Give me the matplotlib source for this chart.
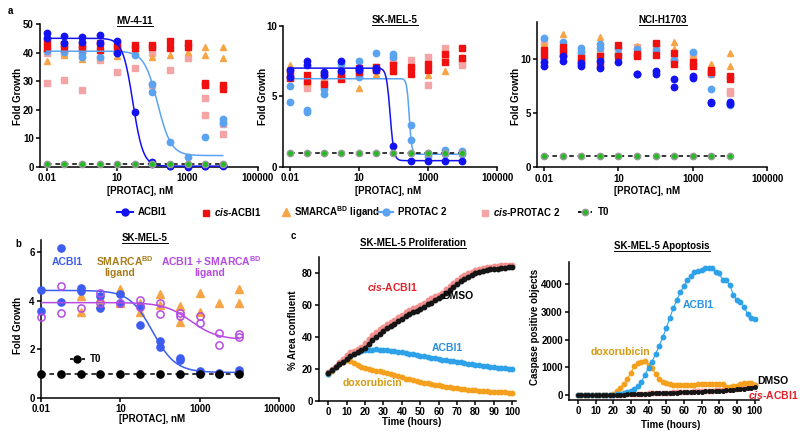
import numpy as np
import matplotlib
matplotlib.use("Agg")
import matplotlib.pyplot as plt
from matplotlib.lines import Line2D

plt.rcParams['font.family'] = ['Liberation Sans', 'DejaVu Sans']
plt.rcParams['font.weight'] = 'bold'
plt.rcParams['mathtext.fontset'] = 'custom'
plt.rcParams['mathtext.rm'] = 'Liberation Sans:bold'
plt.rcParams['mathtext.it'] = 'Liberation Sans:italic:bold'
plt.rcParams['mathtext.bf'] = 'Liberation Sans:bold'
plt.rcParams['mathtext.default'] = 'rm'
plt.rcParams['axes.linewidth'] = 1.1

nan = np.nan
W, H = 800, 438

# --- doses (as placed on the Prism axis) ---
doses = [0.1, 0.316, 1, 3.16, 10, 31.6, 100, 316, 1000, 3162, 10000]
dose_ticks = [0.1, 10, 1000, 100000]
dose_ticklabels = ['0.01', '10', '1000', '100000']
t0_value = 1.0

# --- panel a : MV-4-11 ---
acbi1_mv = [[47.0, 45.9, 45.5, 46.1, 43.9, 19.3, 1.8, 0.3, 0.2, 0.3, 0.8],
            [45.0, 43.5, 43.8, 43.5, 40.0, nan, 1.2, 0.2, 0.1, 0.2, 0.5]]
protac2_mv = [[40.5, 40.3, 40.0, 38.5, 40.0, 39.1, 29.0, 8.8, 3.5, 10.5, 16.9],
              [nan, nan, 38.3, nan, nan, nan, 26.3, nan, nan, nan, 15.5]]
cis_acbi1_mv = [[43.8, 43.0, 42.5, 43.5, 42.5, 42.6, 42.8, 44.2, 43.5, 29.2, 28.5],
                [41.5, 41.5, 41.5, 41.0, 41.5, 41.5, 42.0, 41.5, 41.8, 28.5, 27.3]]
smarca_mv = [[37.0, 39.3, 37.8, 38.5, 38.8, 41.0, 38.5, 39.0, 40.3, 42.0, 42.0],
             [nan, nan, nan, nan, nan, nan, nan, nan, nan, 39.1, 38.0]]
cis_protac2_mv = [[40.0, 39.5, 26.9, 37.4, 33.3, 34.5, 40.0, 33.9, 38.0, 24.3, 15.0],
                  [29.2, 30.4, nan, nan, nan, nan, 28.8, nan, nan, 18.1, 11.7]]
fit_acbi1_mv = (45.0, 0.3, 28.0, 3.0)      # top, bottom, IC50, hill
fit_protac2_mv = (40.5, 4.0, 141.0, 2.27)

# --- panel a : SK-MEL-5 ---
acbi1_sk = [[6.9, 7.5, 6.7, 7.5, 7.0, 7.0, 1.5, 0.4, 0.4, 0.4, 0.45],
            [6.4, 7.2, 6.5, 6.8, 6.9, 6.9, nan, nan, nan, nan, nan]]
protac2_sk = [[5.7, 4.0, 5.5, 7.3, 7.5, 8.1, 8.0, 3.0, 1.0, 1.2, 1.1],
              [4.6, 3.9, 5.2, 6.8, 6.4, 7.0, 7.8, 1.9, 0.8, 0.9, 0.95]]
cis_acbi1_sk = [[6.8, 6.5, 6.5, 6.5, 7.0, 7.1, 7.2, 7.1, 7.3, 8.0, 8.4],
                [6.3, 6.1, 5.9, 6.2, 6.7, 6.9, 6.8, 6.6, 6.9, 7.4, 7.7]]
smarca_sk = [[7.2, 6.0, 6.0, 6.5, 5.6, 6.6, 6.8, 6.8, 6.5, 6.8, 7.8],
             [nan] * 11]
cis_protac2_sk = [[6.5, 5.9, 6.0, 6.5, 6.9, 7.1, 7.6, 7.6, 7.8, 8.4, 7.4],
                  [6.3, 5.6, 5.7, 6.3, 6.5, 6.9, 7.3, 7.0, 5.8, 7.8, 7.2]]
fit_acbi1_sk = (7.0, 0.45, 81.0, 8.0)
fit_protac2_sk = (6.25, 0.9, 290.0, 12.0)

# --- panel a : NCI-H1703 ---
acbi1_nci = [[9.7, 10.2, 9.6, 9.8, 9.7, 8.6, 8.9, 8.1, 8.4, 6.0, 6.0],
             [9.3, 9.8, 9.3, 9.1, nan, 8.55, 8.6, 7.4, 8.2, 5.9, 5.8]]
protac2_nci = [[11.9, 11.5, 11.0, 11.35, 10.95, 10.86, 10.8, 9.9, 10.6, 7.2, 5.75],
               [nan, 10.2, 10.6, 11.0, 10.3, nan, nan, nan, nan, 8.6, 5.9]]
cis_acbi1_nci = [[10.8, 11.1, 10.1, 10.2, 11.3, 10.4, 11.45, 10.5, 9.7, 9.0, 8.4],
                 [10.2, 10.5, 9.7, 9.4, 10.2, 10.2, 10.35, 9.55, 9.35, 8.8, 8.1]]
smarca_nci = [[11.35, 12.3, 10.5, 11.95, 10.6, 11.2, 11.0, 11.55, 10.2, 9.55, 10.5],
              [nan, nan, nan, 11.0, nan, nan, nan, 10.85, nan, nan, 9.3]]
cis_protac2_nci = [[11.5, 10.7, 10.5, 10.5, 10.7, 11.1, 11.2, 10.0, 10.2, 8.6, 7.0],
                   [nan] * 10 + [6.8]]

# --- panel b : SK-MEL-5 with ligand competition ---
acbi1_b = [[4.45, 6.15, 4.5, 4.2, 4.27, 3.8, 2.34, 1.64, 1.12, 1.04, 1.14],
           [3.56, 3.95, 4.4, 3.7, 3.9, 2.99, 2.1, 1.55, 1.05, 1.0, 1.05]]
combo_b = [[3.33, 4.59, 3.7, 4.33, 3.92, 4.01, 3.92, 3.5, 3.37, 2.68, 2.64],
           [nan, 3.49, nan, 3.9, nan, 3.75, 3.47, 3.35, 3.1, 2.19, 2.51]]
smarca_b = [[nan, nan, 4.19, 4.1, 4.49, 3.9, 4.26, 3.78, 4.3, 3.9, 4.47],
            [nan, nan, 3.53, 3.85, 3.9, 3.55, 3.84, 3.12, 3.55, nan, 3.9]]
fit_acbi1_b = (4.42, 1.05, 65.0, 1.5)
fit_combo_b = (3.92, 2.4, 600.0, 1.3)

# --- panel c : time courses ---
hours = list(range(0, 101, 2))
prolif_dmso = [17.5, 19.5, 21, 23, 24.5, 26.5, 28, 29.5, 31, 32, 33.5, 36, 38, 40, 42, 44,
               45.5, 47, 48.5, 50, 51.5, 53, 54.5, 55.5, 56.5, 57.5, 59, 60.5, 61.5, 63,
               64.5, 66, 67.5, 69.5, 71.5, 73.5, 75, 76.5, 78, 79, 80, 80.8, 81.5, 82,
               82.5, 82.8, 83, 83.3, 83.5, 83.7, 84]
prolif_cis = [18, 20, 22, 24.5, 26.5, 29, 31, 31.5, 32.5, 34, 36.5, 39, 41.5, 43.5, 45,
              46.5, 48, 49.5, 51, 52.5, 54, 55.5, 57, 58, 59, 60, 61.5, 63, 64.5, 65.5,
              66.5, 68, 70, 72, 74, 76, 77.5, 79, 80, 81, 81.8, 82.5, 83.2, 83.8, 84.2,
              84.5, 84.8, 85, 85.1, 85.2, 85.3]
prolif_acbi1 = [17, 19.5, 21.5, 23.5, 25.5, 27.5, 29, 30, 30.8, 31.3, 31.7, 32, 32.2, 32.3,
                32.2, 32, 31.8, 31.5, 31.2, 30.8, 30.4, 30, 29.6, 29.2, 28.8, 28.4, 28,
                27.6, 27.2, 26.8, 26.4, 26, 25.7, 25.3, 25, 24.6, 24.2, 23.8, 23.4, 23,
                22.7, 22.4, 22.1, 21.8, 21.5, 21.2, 20.9, 20.6, 20.4, 20.2, 20]
prolif_doxo = [17, 19, 21, 23, 24.5, 25.5, 25.3, 24, 22.5, 21.3, 20.5, 20, 19.5, 19, 18.5,
               18, 17.4, 16.8, 16.2, 15.5, 14.8, 14.1, 13.5, 12.9, 12.4, 11.9, 11.4, 11,
               10.6, 10.2, 9.8, 9.4, 9, 8.6, 8.3, 8, 7.7, 7.4, 7.1, 6.8, 6.6, 6.4, 6.2, 6,
               5.9, 5.8, 5.6, 5.5, 5.4, 5.3, 5.2]

apop_acbi1 = [0, 0, 0, 0, 0, 0, 0, 0, 5, 8, 15, 25, 40, 65, 100, 160, 230, 340, 480, 730,
              990, 1200, 1480, 1760, 2080, 2400, 2780, 3120, 3420, 3700, 3940, 4130, 4290,
              4420, 4480, 4510, 4560, 4590, 4560, 4440, 4380, 4140, 4130, 3960, 3600, 3420,
              3340, 3180, 2920, 2760, 2740]
apop_doxo = [0, 0, 0, 0, 0, 0, 0, 5, 10, 15, 40, 140, 250, 400, 560, 800, 1040, 1140, 1180,
             1230, 1080, 960, 760, 560, 470, 420, 380, 370, 360, 350, 350, 355, 360, 370,
             380, 400, 410, 390, 400, 410, 380, 400, 300, 290, 310, 340, 380, 420, 450,
             430, 360]
apop_dmso = [0, 0, 0, 0, 0, 0, 0, 0, 0, 0, 0, 5, 10, 15, 20, 25, 30, 35, 40, 48, 52, 55, 62,
             65, 70, 76, 80, 84, 90, 96, 100, 104, 110, 116, 120, 124, 130, 136, 140, 146,
             150, 160, 170, 178, 190, 200, 215, 232, 250, 270, 290]
apop_cis = [0, 0, 0, 0, 0, 0, 0, 0, 0, 5, 8, 10, 15, 20, 25, 30, 36, 40, 46, 52, 58, 62, 68,
            72, 78, 84, 90, 95, 100, 106, 112, 118, 124, 130, 136, 142, 148, 155, 160, 166,
            172, 182, 192, 200, 212, 228, 245, 265, 300, 330, 350]

# colours
c_acbi1 = '#1212f2'
c_protac2 = '#5aa3f0'
c_cis = '#f01010'
c_cisp2 = '#f4a4a4'
c_smarca = '#f6a445'
c_t0 = '#22bb22'
c_b_acbi1 = '#3d5cf2'
c_combo = '#b54be2'
c_ligtext = '#a67c1a'
c_c_acbi1 = '#2ea2e8'
c_doxo = '#f5a01c'
c_c_cis = '#f29090'


def rect(l, t, r, b):
    return [l / W, 1 - b / H, (r - l) / W, (b - t) / H]


def fx(x):
    return x / W


def fy(y):
    return 1 - y / H


def four_pl(x, top, bottom, ic50, hill):
    return bottom + (top - bottom) / (1 + (x / ic50) ** hill)


def style(ax):
    ax.spines['top'].set_visible(False)
    ax.spines['right'].set_visible(False)
    ax.tick_params(width=1.1, length=3, labelsize=7, pad=1.5, direction='out')
    ax.minorticks_off()


fig = plt.figure(figsize=(8, 4.38), dpi=100)
titles = []
xf = np.logspace(-1, 4, 300)

panels_a = [
    dict(box=(40, 24, 258, 167), ylim=(0, 50), yticks=[0, 10, 20, 30, 40, 50],
         title='MV-4-11', tx=135, ty=21, ylx=18, xlx=140,
         acbi1=acbi1_mv, protac2=protac2_mv, cis=cis_acbi1_mv, smarca=smarca_mv,
         cisp2=cis_protac2_mv, fits=(fit_acbi1_mv, fit_protac2_mv)),
    dict(box=(283, 25.7, 497, 167), ylim=(0, 10), yticks=[0, 5, 10],
         title='SK-MEL-5', tx=395, ty=20, ylx=263, xlx=388,
         acbi1=acbi1_sk, protac2=protac2_sk, cis=cis_acbi1_sk, smarca=smarca_sk,
         cisp2=cis_protac2_sk, fits=(fit_acbi1_sk, fit_protac2_sk)),
    dict(box=(537, 21.7, 767, 167.3), ylim=(0, 13.4), yticks=[0, 5, 10],
         title='NCI-H1703', tx=663, ty=20, ylx=516, xlx=647,
         acbi1=acbi1_nci, protac2=protac2_nci, cis=cis_acbi1_nci, smarca=smarca_nci,
         cisp2=cis_protac2_nci, fits=None),
]

for p in panels_a:
    ax = fig.add_axes(rect(*p['box']))
    ax.set_xscale('log')
    style(ax)
    kw = dict(ls='none', clip_on=False)
    for rep in p['protac2']:
        ax.plot(doses, rep, marker='o', ms=4.6, color=c_protac2, zorder=3, **kw)
    for rep in p['cisp2']:
        ax.plot(doses, rep, marker='s', ms=4.4, color=c_cisp2, zorder=2, **kw)
    for rep in p['smarca']:
        ax.plot(doses, rep, marker='^', ms=4.8, color=c_smarca, zorder=2, **kw)
    for rep in p['cis']:
        ax.plot(doses, rep, marker='s', ms=4.4, color=c_cis, zorder=3, **kw)
    for rep in p['acbi1']:
        ax.plot(doses, rep, marker='o', ms=4.6, color=c_acbi1, zorder=4, **kw)
    if p['fits']:
        ax.plot(xf, four_pl(xf, *p['fits'][1]), color=c_protac2, lw=1.1, zorder=3)
        ax.plot(xf, four_pl(xf, *p['fits'][0]), color=c_acbi1, lw=1.1, zorder=4)
    ax.plot(doses, [t0_value] * len(doses), ls=(0, (3, 2.5)), color='k', lw=1.1,
            marker='o', ms=4.6, mfc=c_t0, mec='#9a9a9a', mew=1.0, clip_on=False, zorder=5)
    ax.set_xlim(10 ** -1.19, 1e5)
    ax.set_ylim(*p['ylim'])
    ax.set_yticks(p['yticks'])
    ax.set_xticks(dose_ticks)
    ax.set_xticklabels(dose_ticklabels)
    fig.text(fx(p['ylx']), fy(96), 'Fold Growth', rotation=90, ha='center', va='center',
             fontsize=7)
    fig.text(fx(p['xlx']), fy(191), '[PROTAC], nM', ha='center', va='center', fontsize=7)
    titles.append(fig.text(fx(p['tx']), fy(p['ty']), p['title'], ha='center',
                           va='center', fontsize=7))

fig.text(fx(10), fy(11), 'a', fontsize=7, ha='center', va='center')

# legend row
leg_entries = [
    (Line2D([], [], color=c_acbi1, marker='o', ms=5, lw=1.5), 'ACBI1', 117, 1.65, 0.5),
    (Line2D([], [], color=c_cis, marker='s', ls='none', ms=5), r'$\mathit{cis}$-ACBI1', 201, 1.0, 0.35),
    (Line2D([], [], color=c_smarca, marker='^', ls='none', ms=5.5), r'SMARCA$^{BD}$ ligand', 281, 1.0, 0.35),
    (Line2D([], [], color=c_protac2, marker='o', ms=5, lw=1.5), 'PROTAC 2', 378, 1.55, 0.55),
    (Line2D([], [], color=c_cisp2, marker='s', ls='none', ms=5), r'$\mathit{cis}$-PROTAC 2', 480, 1.0, 0.35),
    (Line2D([], [], color='k', ls=(0, (2, 1.5)), lw=1.3, marker='o', ms=4.6, mfc=c_t0,
            mec='#9a9a9a'), 'T0', 578, 1.45, 0.55),
]
for h, lab, x0, hl, pad in leg_entries:
    fig.legend(handles=[h], labels=[lab], loc='center left', bbox_to_anchor=(fx(x0), fy(212)),
               frameon=False, fontsize=7, handlelength=hl, handletextpad=pad,
               borderpad=0, borderaxespad=0)

# --- panel b ---
axb = fig.add_axes(rect(41, 239.8, 279, 398))
axb.set_xscale('log')
style(axb)
kw = dict(ls='none', clip_on=False)
for rep in smarca_b:
    axb.plot(doses, rep, marker='^', ms=5.5, color=c_smarca, zorder=2, **kw)
for rep in acbi1_b:
    axb.plot(doses, rep, marker='o', ms=5.2, color=c_b_acbi1, zorder=3, **kw)
for rep in combo_b:
    axb.plot(doses, rep, marker='o', ms=5.2, mfc='none', mec=c_combo, mew=1.1, zorder=4, **kw)
axb.plot(xf, four_pl(xf, *fit_acbi1_b), color=c_b_acbi1, lw=1.1, zorder=3)
axb.plot(xf, four_pl(xf, *fit_combo_b), color=c_combo, lw=1.1, zorder=3)
axb.plot(doses, [t0_value] * len(doses), ls=(0, (3, 2.5)), color='k', lw=1.1,
         marker='o', ms=5.2, clip_on=False, zorder=5)
axb.set_xlim(0.1, 1e5)
axb.set_ylim(0, 6.5)
axb.set_yticks([0, 2, 4, 6])
axb.set_xticks(dose_ticks)
axb.set_xticklabels(dose_ticklabels)
fig.legend(handles=[Line2D([], [], color='k', ls=(0, (2, 1.5)), lw=1.2, marker='o', ms=5)],
           labels=['T0'], loc='center left', bbox_to_anchor=(fx(70), fy(359)), frameon=False,
           fontsize=7, handlelength=1.5, handletextpad=0.5, borderpad=0, borderaxespad=0)
fig.text(fx(18), fy(325), 'Fold Growth', rotation=90, ha='center', va='center', fontsize=7)
fig.text(fx(152), fy(419), '[PROTAC], nM', ha='center', va='center', fontsize=7)
fig.text(fx(18), fy(244), 'b', fontsize=7, ha='center', va='center')
titles.append(fig.text(fx(145), fy(238), 'SK-MEL-5', ha='center', va='center', fontsize=7))
fig.text(fx(67), fy(262), 'ACBI1', color=c_b_acbi1, ha='center', va='center', fontsize=7.5)
fig.text(fx(125), fy(261), r'SMARCA$^{BD}$', color=c_ligtext, ha='center', va='center', fontsize=7.5)
fig.text(fx(120), fy(273), 'ligand', color=c_ligtext, ha='center', va='center', fontsize=7.5)
fig.text(fx(211), fy(261), r'ACBI1 + SMARCA$^{BD}$', color=c_combo, ha='center', va='center', fontsize=7.5)
fig.text(fx(210), fy(273), 'ligand', color=c_combo, ha='center', va='center', fontsize=7.5)

# --- panel c : proliferation ---
axc = fig.add_axes(rect(319, 257.4, 516, 401))
style(axc)
ckw = dict(marker='o', ms=3.2, lw=0.8, clip_on=False)
axc.plot(hours, prolif_doxo, color=c_doxo, zorder=2, **ckw)
axc.plot(hours, prolif_acbi1, color=c_c_acbi1, zorder=3, **ckw)
axc.plot(hours, prolif_cis, color=c_c_cis, zorder=3, **ckw)
axc.plot(hours, prolif_dmso, color='#151515', zorder=4, **ckw)
axc.set_xlim(-5, 102)
axc.set_ylim(0, 90)
axc.set_xticks(range(0, 101, 10))
axc.set_yticks([0, 20, 40, 60, 80])
fig.text(fx(293), fy(330), '% Area confluent', rotation=90, ha='center', va='center', fontsize=7)
fig.text(fx(412), fy(422), 'Time (hours)', ha='center', va='center', fontsize=7)
fig.text(fx(293), fy(236), 'c', fontsize=7, ha='center', va='center')
titles.append(fig.text(fx(413), fy(243), 'SK-MEL-5 Proliferation', ha='center', va='center', fontsize=7))
fig.text(fx(392), fy(287), r'$\mathit{cis}$-ACBI1', color='#e3202a', ha='center', va='center', fontsize=7.5)
fig.text(fx(458), fy(296), 'DMSO', color='k', ha='center', va='center', fontsize=7.5)
fig.text(fx(447), fy(348), 'ACBI1', color='#2a8fe0', ha='center', va='center', fontsize=7.5)
fig.text(fx(372), fy(383), 'doxorubicin', color='#d49a12', ha='center', va='center', fontsize=7.5)

# --- panel c : apoptosis ---
axd = fig.add_axes(rect(569, 261.8, 759, 400))
style(axd)
axd.plot(hours, apop_cis, color=c_c_cis, zorder=2, **ckw)
axd.plot(hours, apop_doxo, color=c_doxo, zorder=3, **ckw)
axd.plot(hours, apop_acbi1, color=c_c_acbi1, zorder=3, **ckw)
axd.plot(hours, apop_dmso, color='#151515', zorder=4, marker='o', ms=2.6, lw=1.4, clip_on=False)
axd.set_xlim(-5, 102.5)
axd.set_ylim(-180, 4800)
axd.set_xticks(range(0, 101, 10))
axd.set_yticks([0, 1000, 2000, 3000, 4000])
fig.text(fx(535), fy(327), 'Caspase positive objects', rotation=90, ha='center', va='center', fontsize=7)
fig.text(fx(671), fy(425), 'Time (hours)', ha='center', va='center', fontsize=7)
titles.append(fig.text(fx(662), fy(246), 'SK-MEL-5 Apoptosis', ha='center', va='center', fontsize=7))
fig.text(fx(698), fy(305), 'ACBI1', color='#2a8fe0', ha='center', va='center', fontsize=7.5)
fig.text(fx(620), fy(352), 'doxorubicin', color='#d49a12', ha='center', va='center', fontsize=7.5)
fig.text(fx(773), fy(381), 'DMSO', color='k', ha='center', va='center', fontsize=7.5)
fig.text(fx(773), fy(395), r'$\mathit{cis}$-ACBI1', color='#e3202a', ha='center', va='center', fontsize=7.5)

# underline the titles
fig.canvas.draw()
inv = fig.transFigure.inverted()
for t in titles:
    bb = t.get_window_extent()
    (x0, y0), (x1, y1) = inv.transform([[bb.x0, bb.y0], [bb.x1, bb.y1]])
    fig.add_artist(Line2D([x0, x1], [y0 + 0.001, y0 + 0.001], transform=fig.transFigure,
                          color='k', lw=0.7))

fig.savefig('out.png', dpi=100)
